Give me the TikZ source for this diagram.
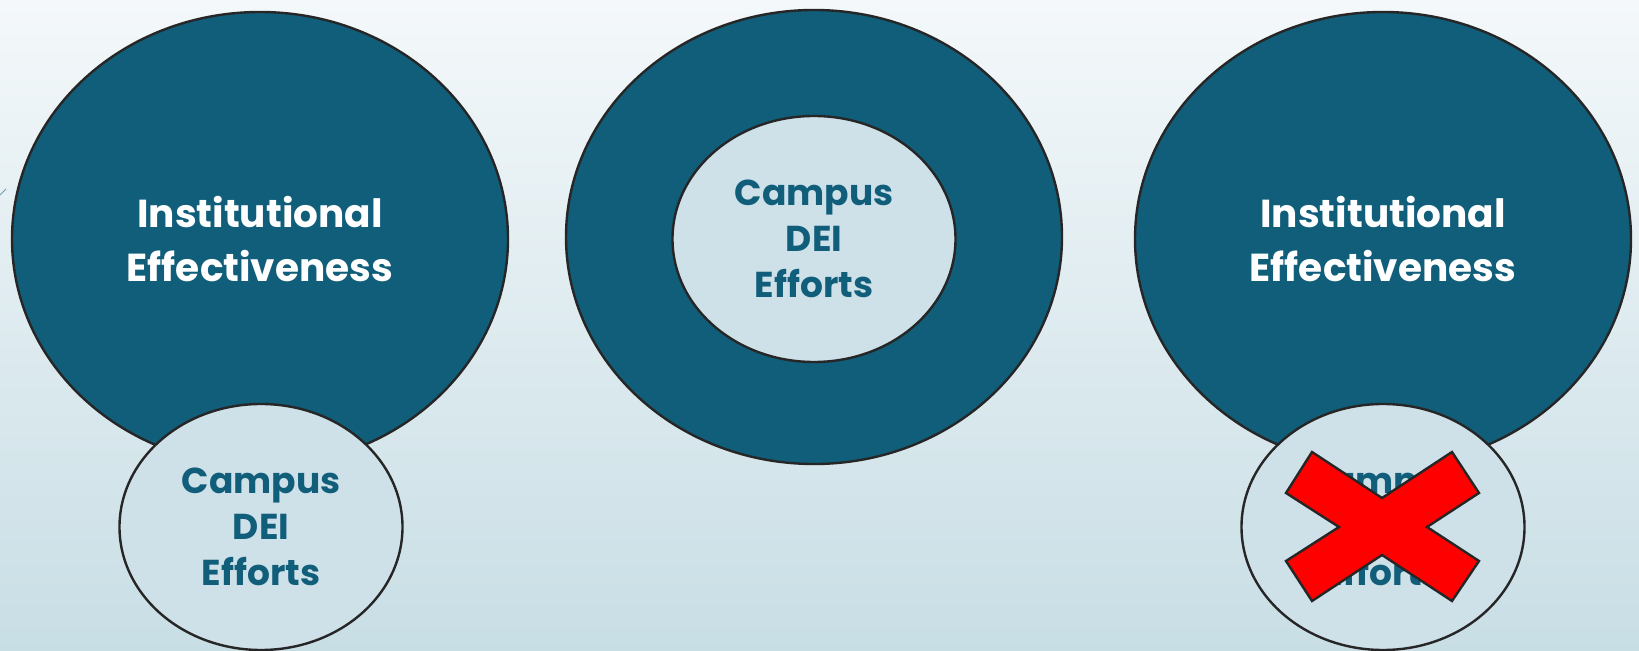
\documentclass[tikz,border=0pt]{standalone}
\usepackage{fontspec}
\setmainfont{Poppins}
\usetikzlibrary{shapes.geometric}
\definecolor{teal}{HTML}{115E7B}
\definecolor{paleblue}{HTML}{CEE0E8}
\definecolor{rim}{HTML}{262626}
\definecolor{bgtop}{HTML}{F4F8FA}
\definecolor{bgbottom}{HTML}{C8DEE5}
\definecolor{crossred}{HTML}{FF0000}
\tikzset{
  bigcircle/.style={ellipse, draw=rim, line width=1.2pt, fill=teal,
    minimum width=248pt, minimum height=227pt, inner sep=0pt,
    text=white, align=center, font=\bfseries\fontsize{19.5}{27}\selectfont},
  smallcircle/.style={ellipse, draw=rim, line width=1.2pt, fill=paleblue,
    minimum width=141.5pt, minimum height=123pt, inner sep=0pt,
    text=teal, align=center, font=\bfseries\fontsize{18}{23}\selectfont},
  crossmark/.style={draw=rim, line width=1.2pt, fill=crossred, line join=miter},
}
\begin{document}
\begin{tikzpicture}[x=0.5pt, y=-0.5pt]
  % backdrop
  \shade[top color=bgtop, bottom color=bgbottom] (0,0) rectangle (1639,651);
  \useasboundingbox (0,0) rectangle (1639,651);
  \coordinate (tickA) at (0,195);
  \coordinate (tickB) at (6,189);
  \draw[teal!60, line width=0.4pt] (tickA) -- (tickB);

  % left pair: overlapping circles
  \node[bigcircle] (ieL) at (260,239) {Institutional\\Effectiveness};
  \node[smallcircle] (deiL) at (261,527) {Campus\\DEI\\Efforts};

  % middle: nested circles
  \node[bigcircle] (ieM) at (814,237) {};
  \node[smallcircle] (deiM) at (814,239) {Campus\\DEI\\Efforts};

  % right pair, crossed out
  \node[bigcircle] (ieR) at (1383,239) {Institutional\\Effectiveness};
  \node[smallcircle] (deiR) at (1383,527) {Campus\\DEI\\Efforts};
  \filldraw[crossmark]
    (1312,452) -- (1382,498) -- (1452,452) -- (1479,493) -- (1427,527)
    -- (1479,561) -- (1452,601) -- (1382,555) -- (1312,601) -- (1286,561)
    -- (1339,527) -- (1286,493) -- cycle;
\end{tikzpicture}
\end{document}
